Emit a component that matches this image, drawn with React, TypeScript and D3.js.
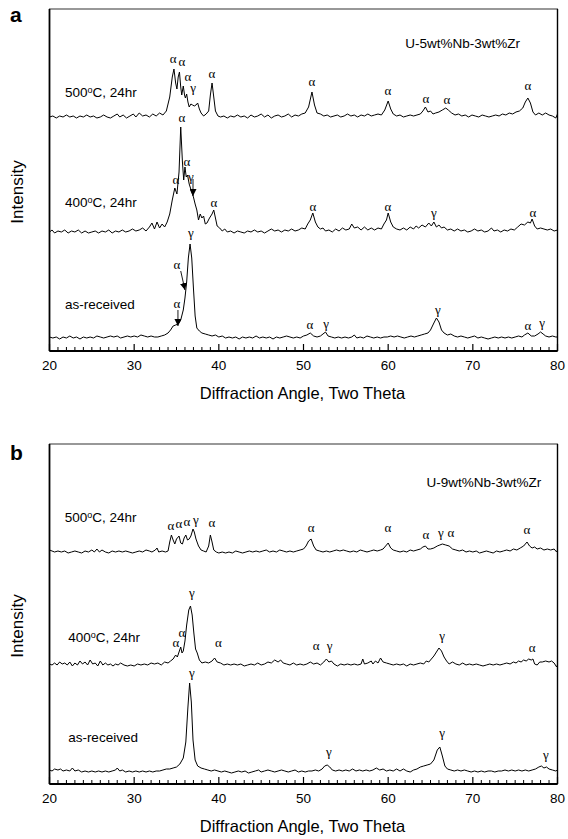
import React, { useEffect, useRef } from "react";
import * as d3 from "d3";

// 2-theta tick labels
const majorTicks = [20, 30, 40, 50, 60, 70, 80];

// trace names and composition labels
const sampleNames = ["as-received", "400", "500"];
const alloyNames = ["U-5wt%Nb-3wt%Zr", "U-9wt%Nb-3wt%Zr"];

// offset of each trace baseline (as-received, 400C, 500C), arbitrary units
const offsetsA = [13, 119, 234];
const offsetsB = [12, 119, 232];

// ---- panel a traces: [2theta, intensity above own baseline] ----
const a500 = [[20,0],[20.4,1],[20.8,-1],[21.2,1],[21.6,0],[22,2],[22.4,0],[22.8,1],[23.2,-1],[23.6,1],[24,0],[24.4,2],[24.8,0],[25.2,1],[25.6,-1],[26,0],[26.4,2],[26.8,0],[27.2,-1],[27.6,1],[28,3],[28.3,0],[28.7,2],[29.1,-1],[29.5,1],[29.9,3],[30.2,0],[30.6,4],[31,1],[31.4,2],[31.8,0],[32.2,3],[32.6,1],[33,4],[33.4,2],[33.8,6],[34.2,20],[34.5,40],[34.7,48],[34.9,34],[35.05,28],[35.2,40],[35.35,45],[35.5,30],[35.62,22],[35.8,31],[35.95,22],[36.05,19],[36.2,23],[36.35,15],[36.5,10],[36.7,13],[36.9,12],[37.1,11],[37.3,12],[37.5,14],[37.7,8],[37.9,4],[38.2,1],[38.5,3],[38.8,6],[39.0,22],[39.2,34],[39.4,20],[39.6,6],[39.9,1],[40.2,0],[40.6,1],[41,-1],[41.4,1],[41.8,0],[42.2,2],[42.6,0],[43,1],[43.4,-1],[43.8,2],[44.2,0],[44.6,1],[45,3],[45.4,0],[45.8,2],[46.2,-1],[46.6,1],[47,2],[47.4,0],[47.8,1],[48.2,3],[48.6,0],[49,2],[49.4,1],[49.8,3],[50.2,4],[50.6,10],[51,25],[51.3,12],[51.6,4],[52,3],[52.4,1],[52.8,2],[53.2,0],[53.6,1],[54,2],[54.4,0],[54.8,1],[55.2,3],[55.6,1],[56,2],[56.4,0],[56.8,2],[57.2,1],[57.6,3],[58,1],[58.4,2],[58.8,3],[59.2,2],[59.6,7],[60,16],[60.3,8],[60.6,3],[61,1],[61.4,2],[61.8,0],[62.2,1],[62.6,2],[63,1],[63.4,2],[63.8,3],[64.1,6],[64.4,10],[64.7,5],[65,6],[65.3,3],[65.6,4],[66,5],[66.4,7],[66.8,9],[67.1,7],[67.5,4],[67.9,2],[68.3,3],[68.7,1],[69.1,2],[69.5,0],[69.9,2],[70.3,1],[70.7,0],[71.1,2],[71.5,1],[71.9,0],[72.3,1],[72.7,2],[73.1,1],[73.5,3],[73.9,2],[74.3,4],[74.7,3],[75.1,5],[75.5,6],[75.9,9],[76.2,15],[76.5,19],[76.8,14],[77.1,5],[77.4,2],[77.8,4],[78.2,2],[78.6,4],[79,2],[79.4,1],[79.8,-1],[80,3]];

const a400 = [[20,0],[20.3,2],[20.6,-1],[21,1],[21.4,0],[21.8,2],[22.2,-1],[22.6,1],[23,0],[23.4,2],[23.8,-1],[24.2,1],[24.6,-1],[25,0],[25.4,1],[25.8,-1],[26.2,1],[26.6,0],[27,2],[27.4,-1],[27.8,1],[28.2,0],[28.6,2],[29,0],[29.4,1],[29.8,3],[30.2,1],[30.6,2],[31,4],[31.4,1],[31.8,5],[32.1,9],[32.4,3],[32.7,10],[33,4],[33.3,8],[33.6,5],[33.9,10],[34.2,18],[34.5,32],[34.8,44],[35.05,38],[35.3,60],[35.5,105],[35.7,70],[35.85,52],[36.0,65],[36.15,55],[36.3,57],[36.5,48],[36.8,40],[37.0,35],[37.2,28],[37.4,22],[37.6,12],[37.8,18],[38.0,14],[38.2,16],[38.4,8],[38.6,9],[38.9,14],[39.2,18],[39.4,22],[39.6,14],[39.8,6],[40.1,4],[40.4,1],[40.7,3],[41,0],[41.4,1],[41.8,-1],[42.2,1],[42.6,0],[43,-1],[43.4,1],[43.8,0],[44.2,2],[44.6,0],[45,1],[45.4,-1],[45.8,1],[46.2,3],[46.6,1],[47,2],[47.4,0],[47.8,2],[48.2,1],[48.6,3],[49,1],[49.4,2],[49.8,4],[50.2,3],[50.5,8],[50.8,12],[51.1,19],[51.4,10],[51.7,5],[52,3],[52.3,4],[52.6,1],[53,2],[53.4,0],[53.8,3],[54.2,1],[54.6,4],[55,2],[55.4,3],[55.7,8],[56,4],[56.4,5],[56.8,2],[57.2,5],[57.6,2],[58,4],[58.4,2],[58.8,4],[59.2,3],[59.5,8],[59.8,12],[60.0,19],[60.3,10],[60.6,5],[61,3],[61.4,2],[61.8,4],[62.2,2],[62.6,5],[63,3],[63.3,6],[63.6,4],[64,7],[64.4,5],[64.8,9],[65.1,6],[65.4,10],[65.7,5],[66,7],[66.3,4],[66.6,5],[67,2],[67.4,3],[67.8,1],[68.2,3],[68.6,1],[69,2],[69.4,0],[69.8,1],[70.2,3],[70.6,1],[71,2],[71.4,0],[71.8,1],[72.2,4],[72.5,1],[72.9,2],[73.3,0],[73.7,2],[74.1,1],[74.5,3],[74.9,2],[75.3,5],[75.7,8],[76.1,7],[76.5,10],[76.8,9],[77.0,13],[77.3,6],[77.6,3],[78,4],[78.4,3],[78.8,2],[79.2,3],[79.6,1],[80,2]];

const aRecv = [[20,1],[20.4,0],[20.8,1],[21.2,-1],[21.6,1],[22,0],[22.4,2],[22.8,0],[23.2,1],[23.6,-1],[24,1],[24.4,0],[24.8,1],[25.2,0],[25.6,2],[26,1],[26.4,0],[26.8,1],[27.2,2],[27.6,1],[28,2],[28.4,0],[28.8,1],[29.2,2],[29.6,1],[30,2],[30.4,1],[30.8,3],[31.2,2],[31.6,1],[32,2],[32.4,1],[32.8,1],[33.2,2],[33.6,3],[34.0,5],[34.3,8],[34.6,12],[34.9,13],[35.2,14],[35.5,18],[35.8,28],[36.0,40],[36.2,56],[36.4,80],[36.6,94],[36.8,80],[37.0,50],[37.2,22],[37.4,10],[37.7,7],[38,5],[38.4,4],[38.8,3],[39.2,2],[39.6,3],[40,1],[40.4,2],[40.8,0],[41.2,1],[41.6,0],[42,1],[42.4,-1],[42.8,1],[43.2,0],[43.6,1],[44,0],[44.4,2],[44.8,0],[45.2,1],[45.6,0],[46,1],[46.4,-1],[46.8,1],[47.2,0],[47.6,1],[48,2],[48.4,1],[48.8,0],[49.2,1],[49.6,0],[50,2],[50.4,3],[50.8,5],[51.2,2],[51.6,1],[52,2],[52.3,4],[52.6,6],[52.9,2],[53.3,1],[53.7,0],[54.1,1],[54.5,0],[54.9,1],[55.3,0],[55.7,1],[56,3],[56.3,0],[56.7,1],[57.1,0],[57.5,2],[57.9,1],[58.3,0],[58.7,1],[59.1,0],[59.5,1],[59.9,1],[60.3,2],[60.7,1],[61.1,2],[61.5,1],[61.9,0],[62.3,1],[62.7,2],[63.1,1],[63.5,2],[63.9,3],[64.3,4],[64.7,5],[65.0,8],[65.4,15],[65.7,20],[66.0,16],[66.3,8],[66.6,5],[67,3],[67.4,4],[67.8,2],[68.2,1],[68.6,2],[69,1],[69.4,0],[69.8,1],[70.2,2],[70.6,0],[71,1],[71.4,0],[71.8,-1],[72.2,0],[72.6,1],[73,0],[73.4,1],[73.8,0],[74.2,1],[74.6,0],[75,1],[75.4,2],[75.8,1],[76.1,3],[76.5,5],[76.9,2],[77.3,2],[77.7,4],[78.0,6],[78.3,4],[78.6,2],[79,1],[79.4,2],[79.8,1],[80,1]];

// ---- panel b traces ----
const b500 = [[20,2],[20.3,1],[20.6,0],[21,1],[21.4,0],[21.8,1],[22.2,-1],[22.6,0],[23,1],[23.4,0],[23.8,-1],[24.2,1],[24.6,0],[25,2],[25.3,0],[25.6,3],[25.9,0],[26.2,2],[26.6,0],[27,-1],[27.4,1],[27.8,0],[28.2,1],[28.6,0],[29,1],[29.4,0],[29.8,-1],[30.2,0],[30.6,1],[31,0],[31.4,2],[31.8,1],[32.1,0],[32.5,2],[32.7,4],[32.9,0],[33.3,1],[33.7,0],[34.0,1],[34.2,10],[34.4,17],[34.6,12],[34.8,8],[35.0,13],[35.3,16],[35.5,9],[35.7,8],[35.9,14],[36.1,17],[36.3,12],[36.5,13],[36.7,16],[36.95,23],[37.1,20],[37.3,13],[37.6,6],[37.9,2],[38.2,1],[38.5,0],[38.8,6],[39.0,17],[39.2,10],[39.4,2],[39.7,0],[40,-1],[40.4,0],[40.8,-1],[41.2,0],[41.6,-1],[42,1],[42.4,0],[42.8,-1],[43.2,0],[43.6,1],[44,0],[44.4,1],[44.8,0],[45.2,1],[45.6,2],[46,0],[46.4,1],[46.8,0],[47.2,2],[47.6,1],[48,0],[48.4,1],[48.8,0],[49.2,1],[49.6,2],[50,3],[50.3,6],[50.6,11],[50.9,13],[51.2,6],[51.5,2],[51.9,1],[52.3,0],[52.7,1],[53.1,0],[53.5,1],[53.9,2],[54.3,1],[54.7,2],[55.1,1],[55.5,0],[55.9,1],[56.3,0],[56.7,2],[57.1,1],[57.5,0],[57.9,1],[58.3,2],[58.7,1],[59.1,2],[59.4,3],[59.7,6],[60.0,9],[60.3,4],[60.6,2],[61,1],[61.4,0],[61.8,1],[62.2,0],[62.6,2],[63,1],[63.4,2],[63.8,3],[64.1,5],[64.4,6],[64.7,3],[65,3],[65.4,4],[65.8,6],[66.1,7],[66.4,8],[66.8,7],[67.2,6],[67.6,3],[68,2],[68.4,1],[68.8,2],[69.2,0],[69.6,1],[70,0],[70.4,1],[70.8,-1],[71.2,0],[71.6,1],[72,0],[72.4,-1],[72.8,1],[73.2,0],[73.6,1],[74,2],[74.4,1],[74.8,3],[75.2,2],[75.6,4],[76.0,6],[76.4,10],[76.7,6],[77,4],[77.3,5],[77.6,3],[78,4],[78.4,2],[78.8,3],[79.2,2],[79.6,3],[79.9,0],[80,2]];

const b400 = [[20,1],[20.3,0],[20.6,2],[20.9,0],[21.2,3],[21.5,1],[21.8,2],[22.1,0],[22.4,3],[22.7,-1],[23,2],[23.3,0],[23.6,4],[23.9,1],[24.2,3],[24.5,0],[24.8,5],[25.1,1],[25.4,2],[25.7,-1],[26,4],[26.3,0],[26.6,2],[26.9,0],[27.2,1],[27.5,-1],[27.8,1],[28.1,0],[28.4,2],[28.8,0],[29.2,-1],[29.6,0],[30,-1],[30.4,1],[30.8,0],[31.2,1],[31.6,0],[32,2],[32.4,1],[32.8,2],[33.2,0],[33.6,3],[34,2],[34.3,4],[34.6,6],[34.9,10],[35.1,8],[35.3,13],[35.5,18],[35.65,12],[35.8,14],[36.0,24],[36.2,40],[36.45,55],[36.65,59],[36.85,50],[37.05,32],[37.25,16],[37.45,12],[37.7,5],[38.0,2],[38.4,3],[38.8,2],[39.2,4],[39.5,7],[39.8,3],[40.2,2],[40.6,0],[41,1],[41.4,0],[41.8,1],[42.2,0],[42.6,1],[43,-1],[43.4,0],[43.8,1],[44.2,0],[44.6,2],[45,0],[45.4,1],[45.8,3],[46.2,2],[46.6,5],[47,3],[47.3,5],[47.6,2],[48,1],[48.4,0],[48.8,2],[49.2,0],[49.6,1],[50,0],[50.4,1],[50.8,3],[51.2,1],[51.6,2],[52,0],[52.4,3],[52.7,6],[53,3],[53.3,4],[53.6,1],[54,-1],[54.4,1],[54.8,0],[55.2,1],[55.6,0],[56,1],[56.4,0],[56.8,1],[57,6],[57.2,1],[57.6,2],[58,4],[58.2,1],[58.5,4],[58.8,2],[59.1,7],[59.4,3],[59.8,2],[60.2,1],[60.6,0],[61,1],[61.4,0],[61.8,1],[62.2,-1],[62.6,1],[63,0],[63.4,1],[63.8,2],[64.2,1],[64.5,4],[64.8,3],[65.1,6],[65.4,9],[65.7,13],[66.0,17],[66.3,14],[66.6,8],[66.9,4],[67.2,1],[67.6,3],[68,1],[68.4,0],[68.8,2],[69.2,0],[69.6,1],[70,0],[70.4,1],[70.8,0],[71.2,-1],[71.6,0],[72,1],[72.4,0],[72.8,1],[73.2,0],[73.6,1],[74,2],[74.4,1],[74.8,3],[75.1,2],[75.4,4],[75.7,3],[76,5],[76.3,4],[76.6,6],[76.9,5],[77.1,6],[77.3,1],[77.6,0],[77.9,3],[78.2,3],[78.6,4],[79,3],[79.3,4],[79.6,2],[79.9,-2],[80,0]];

const bRecv = [[20,2],[20.3,1],[20.6,3],[21,2],[21.3,3],[21.6,1],[22,2],[22.4,1],[22.7,4],[23,1],[23.4,2],[23.8,0],[24.2,1],[24.6,0],[25,1],[25.4,0],[25.8,1],[26.2,0],[26.6,1],[27,0],[27.4,1],[27.8,2],[28,4],[28.3,1],[28.6,2],[29,0],[29.4,1],[29.8,0],[30.2,1],[30.6,0],[31,1],[31.4,0],[31.8,1],[32.2,0],[32.6,1],[33,1],[33.4,2],[33.8,3],[34.2,3],[34.6,4],[35,5],[35.4,8],[35.8,14],[36.1,30],[36.35,65],[36.55,89],[36.75,70],[36.95,32],[37.2,12],[37.5,6],[37.9,4],[38.3,3],[38.7,2],[39.1,1],[39.5,2],[39.9,1],[40.3,0],[40.7,1],[41.1,0],[41.5,-1],[41.9,0],[42.3,1],[42.7,0],[43.1,1],[43.5,-1],[43.9,0],[44.3,1],[44.7,2],[45,0],[45.4,1],[45.8,2],[46.2,1],[46.6,0],[47,1],[47.4,2],[47.8,1],[48.2,0],[48.6,1],[49,2],[49.4,0],[49.8,1],[50.2,0],[50.6,1],[51,1],[51.4,2],[51.8,1],[52.2,3],[52.5,6],[52.8,7],[53.1,5],[53.4,2],[53.8,1],[54.2,2],[54.6,1],[55,2],[55.4,1],[55.8,3],[56.2,1],[56.6,2],[57,1],[57.4,2],[57.8,1],[58.2,2],[58.6,4],[59,2],[59.4,3],[59.8,1],[60.2,2],[60.6,1],[61,3],[61.4,1],[61.8,3],[62.2,1],[62.6,0],[63,2],[63.4,3],[63.8,5],[64.2,6],[64.6,7],[65,8],[65.4,12],[65.8,22],[66.1,25],[66.4,16],[66.7,6],[67,3],[67.4,2],[67.8,1],[68.2,2],[68.6,1],[69,2],[69.4,1],[69.8,0],[70.2,1],[70.6,0],[71,1],[71.4,0],[71.8,1],[72.2,1],[72.6,0],[73,1],[73.4,1],[73.8,2],[74.2,1],[74.6,2],[75,1],[75.4,2],[75.8,1],[76.2,2],[76.6,1],[77,2],[77.4,3],[77.8,5],[78.1,6],[78.4,4],[78.7,5],[79,3],[79.4,2],[79.8,1],[80,2]];

// phase labels: [symbol, 2theta, level in panel units]
const labelsA = [
  ["α", 34.6, 288], ["α", 35.65, 285], ["α", 36.36, 270], ["γ", 36.95, 259], ["α", 39.19, 273],
  ["α", 51.0, 265], ["α", 59.98, 256], ["α", 64.47, 248], ["α", 66.95, 247], ["α", 76.51, 261],
  ["α", 35.65, 229], ["α", 36.24, 185], ["α", 34.94, 167], ["γ", 36.71, 170], ["α", 39.43, 144],
  ["α", 51.12, 140], ["α", 59.98, 140], ["γ", 65.41, 134], ["α", 77.1, 134],
  ["γ", 36.71, 114], ["α", 35.06, 82], ["α", 35.06, 43],
  ["α", 50.77, 22], ["γ", 52.66, 23], ["γ", 65.88, 37], ["α", 76.51, 21], ["γ", 78.17, 24],
];
const labelsB = [
  ["α", 34.35, 254], ["α", 35.29, 256], ["α", 36.24, 258], ["γ", 37.3, 260], ["α", 39.19, 257],
  ["α", 50.89, 252], ["α", 59.98, 252], ["α", 64.47, 245], ["γ", 66.24, 247], ["α", 67.42, 247], ["α", 76.39, 250],
  ["γ", 36.83, 187], ["α", 34.94, 137], ["α", 35.65, 147], ["α", 39.95, 137],
  ["α", 51.5, 134], ["γ", 53.1, 134], ["γ", 66.36, 144], ["α", 77.0, 132],
  ["γ", 36.83, 107], ["γ", 52.99, 28], ["γ", 66.36, 47], ["γ", 78.64, 25],
];

// arrows pointing at shoulders: [x1, y1, x2, y2] in 2theta / panel units
const arrowsA = [
  [36.95, 172, 36.95, 155],
  [35.5, 80, 36.0, 61],
  [35.17, 41, 35.17, 25],
];

const App = () => {
  const ref = useRef(null);

  useEffect(() => {
    if (!ref.current) return;
    const width = 568, height = 839;
    const left = 49.5, right = 557.5;
    const svg = d3.select(ref.current).attr("width", width).attr("height", height);
    svg.selectAll("*").remove();

    const sans = "'Liberation Sans', Arial, sans-serif";
    const serif = "'Liberation Serif', 'Times New Roman', serif";

    svg.append("defs").append("marker")
      .attr("id", "arr")
      .attr("viewBox", "0 0 10 10")
      .attr("refX", 10).attr("refY", 5)
      .attr("markerWidth", 7).attr("markerHeight", 7)
      .attr("markerUnits", "userSpaceOnUse")
      .attr("orient", "auto")
      .append("path").attr("d", "M0 0 L10 5 L0 10 z").attr("fill", "black");

    const x = d3.scaleLinear().domain([20, 80]).range([left, right]);

    const panels = [
      { letter: "a", top: 9, bottom: 351, offsets: offsetsA, traces: [aRecv, a400, a500], labels: labelsA, arrows: arrowsA, alloy: alloyNames[0],
        nameLevels: [42, 144, 254], nameX: [21.83, 21.83, 21.83] },
      { letter: "b", top: 444, bottom: 784, offsets: offsetsB, traces: [bRecv, b400, b500], labels: labelsB, arrows: [], alloy: alloyNames[1],
        nameLevels: [42, 142, 262], nameX: [22.2, 22.2, 21.8] },
    ];

    panels.forEach((p) => {
      const y = d3.scaleLinear().domain([0, p.bottom - p.top]).range([p.bottom, p.top]);
      const g = svg.append("g");

      // frame
      g.append("rect")
        .attr("x", left).attr("y", p.top)
        .attr("width", right - left).attr("height", p.bottom - p.top)
        .attr("fill", "none").attr("stroke", "#333").attr("stroke-width", 1);
      g.append("line").attr("x1", left).attr("x2", left).attr("y1", p.top).attr("y2", p.bottom)
        .attr("stroke", "black").attr("stroke-width", 1.8);
      g.append("line").attr("x1", right).attr("x2", right).attr("y1", p.top).attr("y2", p.bottom)
        .attr("stroke", "black").attr("stroke-width", 1.4);
      g.append("line").attr("x1", left).attr("x2", right).attr("y1", p.bottom).attr("y2", p.bottom)
        .attr("stroke", "black").attr("stroke-width", 1.8);

      // ticks, pointing inward
      g.selectAll(".mt").data(d3.range(21, 80, 1).filter((d) => d % 10 !== 0)).enter().append("line")
        .attr("x1", (d) => x(d)).attr("x2", (d) => x(d))
        .attr("y1", p.bottom).attr("y2", p.bottom - 4)
        .attr("stroke", "black").attr("stroke-width", 1);
      g.selectAll(".Mt").data(majorTicks).enter().append("line")
        .attr("x1", (d) => x(d)).attr("x2", (d) => x(d))
        .attr("y1", p.bottom).attr("y2", p.bottom - 7)
        .attr("stroke", "black").attr("stroke-width", 1.2);
      g.selectAll(".tl").data(majorTicks).enter().append("text")
        .attr("x", (d) => x(d)).attr("y", p.bottom + 19)
        .attr("text-anchor", "middle")
        .attr("font-family", sans).attr("font-size", 13.5)
        .text((d) => d);

      g.append("text")
        .attr("x", (left + right) / 2 - 1).attr("y", p.bottom + 48)
        .attr("text-anchor", "middle")
        .attr("font-family", sans).attr("font-size", 16.5)
        .text("Diffraction Angle, Two Theta");

      g.append("text")
        .attr("transform", `translate(23,${(p.top + p.bottom) / 2 + 12}) rotate(-90)`)
        .attr("text-anchor", "middle")
        .attr("font-family", sans).attr("font-size", 17)
        .text("Intensity");

      g.append("text")
        .attr("x", 10).attr("y", p.top + (p.letter === "a" ? 13 : 16))
        .attr("font-family", sans).attr("font-weight", "bold").attr("font-size", 21)
        .text(p.letter);

      g.append("text")
        .attr("x", p.letter === "a" ? x(68.8) : x(71.3)).attr("y", y(p.letter === "a" ? 303 : 297))
        .attr("text-anchor", "middle")
        .attr("font-family", sans).attr("font-size", 13.5)
        .text(p.alloy);

      // traces
      const line = d3.line().x((d) => x(d[0]));
      p.traces.forEach((tr, i) => {
        const off = p.offsets[i];
        g.append("path")
          .attr("d", line.y((d) => y(d[1] + off))(tr))
          .attr("fill", "none").attr("stroke", "black")
          .attr("stroke-width", 1).attr("stroke-linejoin", "round");

        const t = g.append("text")
          .attr("x", x(p.nameX[i])).attr("y", y(p.nameLevels[i]))
          .attr("font-family", sans).attr("font-size", 13.5);
        if (sampleNames[i] === "as-received") {
          t.text("as-received");
        } else {
          t.append("tspan").text(sampleNames[i]);
          t.append("tspan").attr("font-size", 9).attr("dy", -4).text("o");
          t.append("tspan").attr("dy", 4).text("C, 24hr");
        }
      });

      // phase labels
      g.selectAll(".ph").data(p.labels).enter().append("text")
        .attr("x", (d) => x(d[1])).attr("y", (d) => y(d[2]))
        .attr("text-anchor", "middle")
        .attr("font-family", serif).attr("font-size", 13)
        .text((d) => d[0]);

      g.selectAll(".ar").data(p.arrows).enter().append("line")
        .attr("x1", (d) => x(d[0])).attr("y1", (d) => y(d[1]))
        .attr("x2", (d) => x(d[2])).attr("y2", (d) => y(d[3]))
        .attr("stroke", "black").attr("stroke-width", 0.9)
        .attr("marker-end", "url(#arr)");
    });
  }, []);

  return <svg ref={ref} style={{ position: "absolute", left: 0, top: 0, background: "white" }}></svg>;
};

export default App;
